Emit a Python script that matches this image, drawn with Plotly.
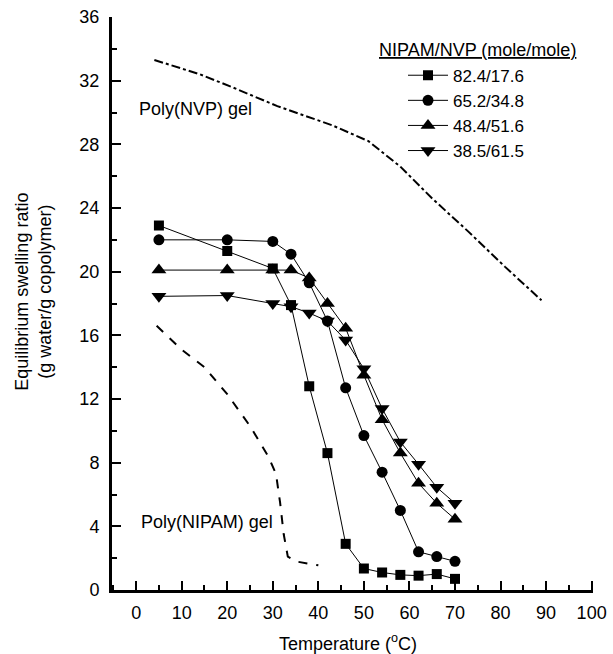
import plotly.graph_objects as go

# ---- data ----
temp_sq = [5, 20, 30, 34, 38, 42, 46, 50, 54, 58, 62, 66, 70]
ratio_sq = [22.9, 21.3, 20.2, 17.9, 12.8, 8.6, 2.9, 1.35, 1.1, 0.95, 0.9, 1.0, 0.7]

temp_ci = [5, 20, 30, 34, 38, 42, 46, 50, 54, 58, 62, 66, 70]
ratio_ci = [22.0, 22.0, 21.9, 21.1, 19.3, 16.9, 12.7, 9.7, 7.4, 5.0, 2.4, 2.1, 1.8]

temp_tu = [5, 20, 30, 34, 38, 42, 46, 50, 54, 58, 62, 66, 70]
ratio_tu = [20.1, 20.1, 20.1, 20.1, 19.6, 18.0, 16.45, 13.5, 10.7, 8.6, 6.7, 5.45, 4.45]

temp_td = [5, 20, 30, 34, 38, 42, 46, 50, 54, 58, 62, 66, 70]
ratio_td = [18.45, 18.5, 18.0, 17.8, 17.4, 16.9, 15.7, 13.9, 11.4, 9.3, 7.9, 6.45, 5.45]

series_names = ["82.4/17.6", "65.2/34.8", "48.4/51.6", "38.5/61.5"]

temp_nvp = [4, 14, 21, 31, 43, 51, 58, 65, 73, 81, 89]
ratio_nvp = [33.3, 32.4, 31.6, 30.4, 29.2, 28.2, 26.6, 24.6, 22.5, 20.3, 18.2]

temp_nipam = [4.5, 10, 15, 20, 25, 29, 30.7, 31.6, 32.4, 33.3, 35, 40]
ratio_nipam = [16.6, 15.1, 14.0, 12.3, 10.3, 8.4, 7.3, 5.5, 3.5, 2.1, 1.8, 1.55]

x_ticks = list(range(0, 101, 10))
y_ticks = list(range(0, 37, 4))

FONT = "Liberation Sans, Arial, sans-serif"

fig = go.Figure()

fig.add_trace(go.Scatter(x=temp_nvp, y=ratio_nvp, mode="lines", showlegend=False,
                         line=dict(color="black", width=2, dash="dashdot")))
fig.add_trace(go.Scatter(x=temp_nipam, y=ratio_nipam, mode="lines", showlegend=False,
                         line=dict(color="black", width=2, dash="dash")))

specs = [
    (temp_sq, ratio_sq, "square", 10),
    (temp_ci, ratio_ci, "circle", 11),
    (temp_tu, ratio_tu, "triangle-up", 13),
    (temp_td, ratio_td, "triangle-down", 13),
]
for (xs, ys, sym, sz), name in zip(specs, series_names):
    fig.add_trace(go.Scatter(x=xs, y=ys, mode="lines+markers", name=name,
                             line=dict(color="black", width=1),
                             marker=dict(symbol=sym, size=sz, color="black")))

fig.update_layout(
    width=613, height=654,
    margin=dict(l=112, r=20, t=17, b=64, autoexpand=False),
    paper_bgcolor="white", plot_bgcolor="white",
    font=dict(family=FONT, size=18, color="black"),
    legend=dict(
        x=0.605, y=0.929, xanchor="left", yanchor="top", itemwidth=40,
        bgcolor="rgba(0,0,0,0)", font=dict(size=17), tracegroupgap=0,
    ),
    xaxis=dict(range=[-5.3, 100.3], tickvals=x_ticks, ticks="inside", ticklen=9,
               tickwidth=2, tickcolor="black", showline=True, linecolor="black",
               linewidth=3, showgrid=False, zeroline=False, mirror=False,
               minor=dict(ticks="inside", dtick=5, tick0=0, ticklen=5, tickwidth=2,
                          tickcolor="black", showgrid=False),
               tickfont=dict(size=18), ticklabelstandoff=4, automargin=False),
    yaxis=dict(range=[0, 36], tickvals=y_ticks, ticks="inside", ticklen=9,
               tickwidth=2, tickcolor="black", showline=True, linecolor="black",
               linewidth=3, showgrid=False, zeroline=False, mirror=False,
               minor=dict(ticks="inside", dtick=2, tick0=0, ticklen=5, tickwidth=2,
                          tickcolor="black", showgrid=False),
               tickfont=dict(size=18), ticklabelstandoff=6, automargin=False),
    annotations=[
        dict(text="<u>NIPAM/NVP (mole/mole)</u>", xref="paper", yref="paper",
             x=0.551, y=0.943, xanchor="left", yanchor="middle", showarrow=False,
             font=dict(size=18)),
        dict(text="Temperature (<sup>o</sup>C)", xref="paper", yref="paper",
             x=0.49, y=-0.091, xanchor="center", yanchor="middle", showarrow=False,
             font=dict(size=18)),
        dict(text="Equilibrium swelling ratio<br>(g water/g copolymer)", xref="paper",
             yref="paper", x=-0.165, y=0.52, xanchor="center", yanchor="middle",
             textangle=-90, showarrow=False, font=dict(size=18)),
        dict(text="Poly(NVP) gel", x=13, y=30.2, xref="x", yref="y",
             showarrow=False, font=dict(size=18)),
        dict(text="Poly(NIPAM) gel", x=15.6, y=4.3, xref="x", yref="y",
             showarrow=False, font=dict(size=18)),
    ],
)

fig.write_html("out.html", config={"displayModeBar": False},
               post_script="document.body.style.margin='0';document.body.style.overflow='hidden';")
